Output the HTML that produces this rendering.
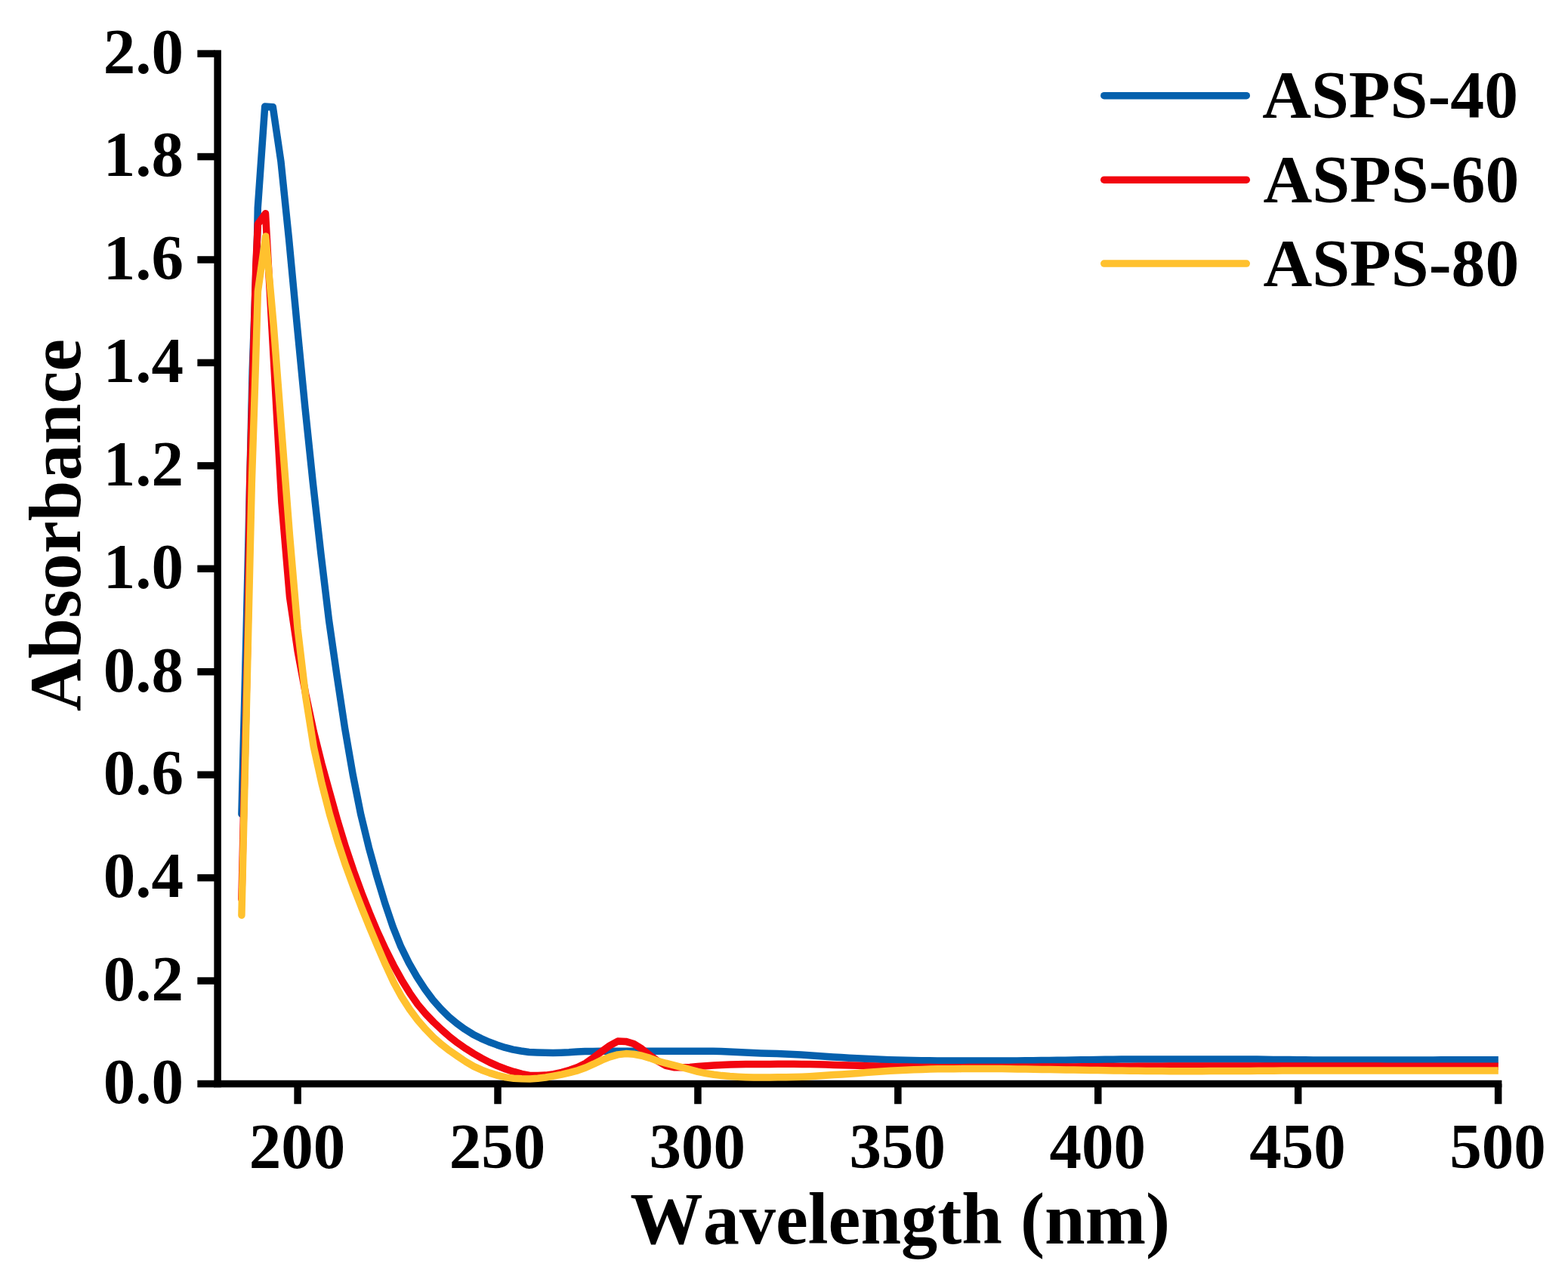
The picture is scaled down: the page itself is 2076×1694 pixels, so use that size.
<!DOCTYPE html>
<html lang="en">
<head>
<meta charset="utf-8">
<title>UV absorbance spectra of ASPS-40, ASPS-60 and ASPS-80</title>
<style>
html,body{margin:0;padding:0;background:#fff;}
body{width:2076px;height:1694px;overflow:hidden;}
svg{display:block;}
.t{font-family:"Liberation Serif",serif;font-weight:bold;fill:#000;font-kerning:none;}
</style>
</head>
<body>
<svg width="2076" height="1694" viewBox="0 0 2076 1694">
<rect width="2076" height="1694" fill="#fff"/>
<g fill="#000">
<rect x="283.35" y="66.35" width="9.50" height="1373.90"/>
<rect x="283.35" y="1430.75" width="1705.00" height="9.50"/>
<rect x="261.35" y="1430.75" width="23.00" height="9.50"/>
<rect x="261.35" y="1294.31" width="23.00" height="9.50"/>
<rect x="261.35" y="1157.87" width="23.00" height="9.50"/>
<rect x="261.35" y="1021.43" width="23.00" height="9.50"/>
<rect x="261.35" y="884.99" width="23.00" height="9.50"/>
<rect x="261.35" y="748.55" width="23.00" height="9.50"/>
<rect x="261.35" y="612.11" width="23.00" height="9.50"/>
<rect x="261.35" y="475.67" width="23.00" height="9.50"/>
<rect x="261.35" y="339.23" width="23.00" height="9.50"/>
<rect x="261.35" y="202.79" width="23.00" height="9.50"/>
<rect x="261.35" y="66.35" width="23.00" height="9.50"/>
<rect x="389.35" y="1435.50" width="9.50" height="26.75"/>
<rect x="654.27" y="1435.50" width="9.50" height="26.75"/>
<rect x="919.18" y="1435.50" width="9.50" height="26.75"/>
<rect x="1184.10" y="1435.50" width="9.50" height="26.75"/>
<rect x="1449.02" y="1435.50" width="9.50" height="26.75"/>
<rect x="1713.93" y="1435.50" width="9.50" height="26.75"/>
<rect x="1978.85" y="1435.50" width="9.50" height="26.75"/>
</g>
<clipPath id="plot"><rect x="288.10" y="0" width="1695.70" height="1694"/></clipPath>
<g clip-path="url(#plot)">
<polyline points="319.9,1078.3 326.0,840.0 334.2,490.0 340.6,312.0 341.3,275.0 350.7,141.1 361.3,141.8 371.9,213.6 382.5,316.3 393.1,428.6 403.7,537.8 414.3,639.3 424.9,733.5 435.5,821.5 446.1,895.1 456.6,964.6 467.2,1026.0 477.8,1079.2 488.4,1122.7 499.0,1160.9 509.6,1196.0 520.2,1227.4 530.8,1253.9 541.4,1275.4 552.0,1293.9 562.6,1310.1 573.2,1324.3 583.8,1336.3 594.4,1346.8 605.0,1355.7 615.6,1363.3 626.2,1369.9 636.8,1375.3 647.4,1380.0 658.0,1383.9 668.6,1387.4 679.2,1390.1 689.8,1392.0 700.4,1393.5 711.0,1394.0 721.5,1394.3 732.1,1394.4 742.7,1394.2 753.3,1393.8 763.9,1393.1 774.5,1392.6 785.1,1392.4 795.7,1392.3 806.3,1392.3 816.9,1392.3 827.5,1392.2 838.1,1392.2 848.7,1392.2 859.3,1392.2 869.9,1392.2 880.5,1392.2 891.1,1392.2 901.7,1392.2 912.3,1392.2 922.9,1392.2 933.5,1392.2 944.1,1392.3 954.7,1392.6 965.3,1393.1 975.9,1393.6 986.4,1394.1 997.0,1394.5 1007.6,1394.9 1018.2,1395.2 1028.8,1395.6 1039.4,1396.0 1050.0,1396.5 1060.6,1397.1 1071.2,1397.7 1081.8,1398.5 1092.4,1399.2 1103.0,1399.9 1113.6,1400.6 1124.2,1401.2 1134.8,1401.7 1145.4,1402.3 1156.0,1402.8 1166.6,1403.3 1177.2,1403.7 1187.8,1404.0 1198.4,1404.2 1209.0,1404.5 1219.6,1404.7 1230.2,1404.8 1240.8,1405.0 1251.3,1405.0 1261.9,1405.0 1272.5,1405.0 1283.1,1405.0 1293.7,1405.0 1304.3,1405.0 1314.9,1405.0 1325.5,1405.0 1336.1,1405.0 1346.7,1404.9 1357.3,1404.8 1367.9,1404.7 1378.5,1404.5 1389.1,1404.4 1399.7,1404.3 1410.3,1404.2 1420.9,1404.0 1431.5,1403.8 1442.1,1403.7 1452.7,1403.5 1463.3,1403.3 1473.9,1403.2 1484.5,1403.1 1495.1,1403.0 1505.7,1403.0 1516.2,1403.0 1526.8,1403.0 1537.4,1403.0 1548.0,1403.0 1558.6,1403.0 1569.2,1403.0 1579.8,1403.0 1590.4,1403.0 1601.0,1403.0 1611.6,1403.0 1622.2,1403.0 1632.8,1403.0 1643.4,1403.0 1654.0,1403.1 1664.6,1403.1 1675.2,1403.2 1685.8,1403.4 1696.4,1403.5 1707.0,1403.6 1717.6,1403.7 1728.2,1403.8 1738.8,1403.9 1749.4,1403.9 1760.0,1403.9 1770.6,1403.9 1781.1,1403.9 1791.7,1403.9 1802.3,1403.9 1812.9,1403.9 1823.5,1403.9 1834.1,1403.9 1844.7,1403.9 1855.3,1403.9 1865.9,1403.9 1876.5,1403.9 1887.1,1403.9 1897.7,1403.9 1908.3,1403.8 1918.9,1403.8 1929.5,1403.8 1940.1,1403.8 1950.7,1403.8 1961.3,1403.8 1971.9,1403.7 1982.5,1403.7 1990.0,1403.7" fill="none" stroke="#0560ad" stroke-width="9.5" stroke-linejoin="round" stroke-linecap="round"/>
<polyline points="319.9,1191.0 328.1,840.0 330.7,640.0 334.9,490.0 338.8,352.0 341.4,296.7 351.5,282.7 363.1,490.0 372.9,665.7 383.5,790.8 394.1,862.4 404.7,919.2 415.3,968.9 425.9,1011.5 436.5,1049.7 447.1,1087.7 457.6,1122.1 468.2,1153.5 478.8,1182.7 489.4,1209.6 500.0,1234.8 510.6,1257.7 521.2,1278.7 531.8,1297.9 542.4,1315.1 553.0,1330.3 563.6,1342.9 574.2,1353.9 584.8,1363.9 595.4,1373.2 606.0,1381.4 616.6,1388.8 627.2,1395.5 637.8,1401.6 648.4,1407.1 659.0,1411.9 669.6,1416.0 680.2,1419.4 690.8,1422.4 701.4,1424.4 712.0,1424.4 722.5,1424.1 733.1,1422.7 743.7,1420.3 754.3,1417.2 764.9,1413.5 775.5,1408.2 786.1,1400.5 796.7,1392.6 807.3,1384.9 817.9,1379.1 828.5,1379.4 839.1,1382.5 849.7,1389.1 860.3,1397.5 870.9,1405.4 881.5,1411.4 892.1,1413.7 902.7,1413.8 913.3,1413.5 923.9,1412.6 934.5,1411.7 945.1,1411.1 955.7,1410.6 966.3,1410.1 976.9,1409.8 987.4,1409.6 998.0,1409.5 1008.6,1409.4 1019.2,1409.4 1029.8,1409.3 1040.4,1409.3 1051.0,1409.3 1061.6,1409.4 1072.2,1409.6 1082.8,1409.8 1093.4,1410.1 1104.0,1410.4 1114.6,1410.7 1125.2,1411.0 1135.8,1411.3 1146.4,1411.7 1157.0,1412.1 1167.6,1412.4 1178.2,1412.7 1188.8,1412.9 1199.4,1413.1 1210.0,1413.3 1220.6,1413.4 1231.2,1413.6 1241.8,1413.7 1252.3,1413.7 1262.9,1413.7 1273.5,1413.7 1284.1,1413.6 1294.7,1413.6 1305.3,1413.6 1315.9,1413.5 1326.5,1413.4 1337.1,1413.4 1347.7,1413.3 1358.3,1413.2 1368.9,1413.2 1379.5,1413.1 1390.1,1413.1 1400.7,1413.0 1411.3,1412.9 1421.9,1412.9 1432.5,1412.8 1443.1,1412.7 1453.7,1412.7 1464.3,1412.6 1474.9,1412.5 1485.5,1412.4 1496.1,1412.4 1506.7,1412.3 1517.2,1412.2 1527.8,1412.2 1538.4,1412.2 1549.0,1412.1 1559.6,1412.1 1570.2,1412.1 1580.8,1412.1 1591.4,1412.1 1602.0,1412.1 1612.6,1412.1 1623.2,1412.1 1633.8,1412.1 1644.4,1412.1 1655.0,1412.1 1665.6,1412.1 1676.2,1412.1 1686.8,1412.1 1697.4,1412.1 1708.0,1412.1 1718.6,1412.1 1729.2,1412.1 1739.8,1412.1 1750.4,1412.1 1761.0,1412.1 1771.6,1412.1 1782.1,1412.1 1792.7,1412.1 1803.3,1412.1 1813.9,1412.1 1824.5,1412.1 1835.1,1412.2 1845.7,1412.2 1856.3,1412.2 1866.9,1412.2 1877.5,1412.2 1888.1,1412.2 1898.7,1412.2 1909.3,1412.2 1919.9,1412.2 1930.5,1412.2 1941.1,1412.2 1951.7,1412.3 1962.3,1412.3 1972.9,1412.3 1983.5,1412.3 1990.0,1412.3" fill="none" stroke="#f2050f" stroke-width="9.5" stroke-linejoin="round" stroke-linecap="round"/>
<polyline points="319.9,1212.3 328.6,840.0 333.3,640.0 338.2,490.0 341.4,386.0 351.7,313.0 362.3,431.8 372.9,571.3 383.5,709.2 394.1,832.7 404.7,922.4 415.3,989.2 425.9,1037.2 436.5,1078.6 447.1,1114.5 457.6,1146.2 468.2,1175.0 478.8,1202.2 489.4,1228.4 500.0,1253.6 510.6,1278.1 521.2,1300.9 531.8,1320.4 542.4,1336.9 553.0,1351.2 563.6,1363.3 574.2,1374.2 584.8,1383.6 595.4,1391.7 606.0,1399.0 616.6,1406.1 627.2,1412.4 637.8,1417.2 648.4,1421.1 659.0,1424.4 669.6,1426.9 680.2,1428.2 690.8,1428.7 701.4,1428.9 712.0,1428.3 722.5,1427.0 733.1,1425.1 743.7,1423.1 754.3,1420.7 764.9,1417.8 775.5,1414.0 786.1,1409.2 796.7,1404.1 807.3,1399.9 817.9,1396.9 828.5,1395.6 839.1,1396.3 849.7,1398.2 860.3,1401.4 870.9,1405.2 881.5,1408.2 892.1,1410.9 902.7,1413.6 913.3,1416.5 923.9,1419.4 934.5,1421.6 945.1,1423.3 955.7,1424.6 966.3,1425.6 976.9,1426.2 987.4,1426.7 998.0,1427.0 1008.6,1427.0 1019.2,1426.9 1029.8,1426.8 1040.4,1426.7 1051.0,1426.5 1061.6,1426.2 1072.2,1425.7 1082.8,1425.0 1093.4,1424.3 1104.0,1423.6 1114.6,1422.9 1125.2,1422.2 1135.8,1421.4 1146.4,1420.5 1157.0,1419.7 1167.6,1418.9 1178.2,1418.2 1188.8,1417.7 1199.4,1417.2 1210.0,1416.8 1220.6,1416.4 1231.2,1416.0 1241.8,1415.8 1252.3,1415.7 1262.9,1415.7 1273.5,1415.6 1284.1,1415.6 1294.7,1415.6 1305.3,1415.6 1315.9,1415.6 1326.5,1415.6 1337.1,1415.7 1347.7,1415.9 1358.3,1416.0 1368.9,1416.2 1379.5,1416.5 1390.1,1416.6 1400.7,1416.8 1411.3,1417.0 1421.9,1417.1 1432.5,1417.3 1443.1,1417.4 1453.7,1417.6 1464.3,1417.7 1474.9,1417.9 1485.5,1418.0 1496.1,1418.2 1506.7,1418.3 1517.2,1418.4 1527.8,1418.5 1538.4,1418.6 1549.0,1418.7 1559.6,1418.7 1570.2,1418.7 1580.8,1418.7 1591.4,1418.7 1602.0,1418.6 1612.6,1418.6 1623.2,1418.5 1633.8,1418.5 1644.4,1418.4 1655.0,1418.4 1665.6,1418.3 1676.2,1418.3 1686.8,1418.2 1697.4,1418.1 1708.0,1418.1 1718.6,1418.1 1729.2,1418.0 1739.8,1418.0 1750.4,1418.0 1761.0,1418.0 1771.6,1418.0 1782.1,1418.0 1792.7,1418.0 1803.3,1418.0 1813.9,1418.0 1824.5,1418.0 1835.1,1418.0 1845.7,1418.0 1856.3,1418.0 1866.9,1418.0 1877.5,1418.0 1888.1,1418.0 1898.7,1418.0 1909.3,1418.0 1919.9,1418.0 1930.5,1418.0 1941.1,1418.0 1951.7,1418.0 1962.3,1418.0 1972.9,1418.0 1983.5,1418.0 1990.0,1418.0" fill="none" stroke="#ffc12e" stroke-width="9.5" stroke-linejoin="round" stroke-linecap="round"/>
</g>
<g class="t" font-size="85">
<text x="243.0" y="1461.3" text-anchor="end">0.0</text>
<text x="243.0" y="1324.9" text-anchor="end">0.2</text>
<text x="243.0" y="1188.4" text-anchor="end">0.4</text>
<text x="243.0" y="1052.0" text-anchor="end">0.6</text>
<text x="243.0" y="915.5" text-anchor="end">0.8</text>
<text x="243.0" y="779.1" text-anchor="end">1.0</text>
<text x="243.0" y="642.7" text-anchor="end">1.2</text>
<text x="243.0" y="506.2" text-anchor="end">1.4</text>
<text x="243.0" y="369.8" text-anchor="end">1.6</text>
<text x="243.0" y="233.3" text-anchor="end">1.8</text>
<text x="243.0" y="96.9" text-anchor="end">2.0</text>
<text x="393.5" y="1547.0" text-anchor="middle">200</text>
<text x="658.4" y="1547.0" text-anchor="middle">250</text>
<text x="923.3" y="1547.0" text-anchor="middle">300</text>
<text x="1188.2" y="1547.0" text-anchor="middle">350</text>
<text x="1453.2" y="1547.0" text-anchor="middle">400</text>
<text x="1718.1" y="1547.0" text-anchor="middle">450</text>
<text x="1983.0" y="1547.0" text-anchor="middle">500</text>
</g>
<text class="t" font-size="96.4" x="1191.7" y="1647.1" text-anchor="middle" >Wavelength (nm)</text>
<text class="t" font-size="96.5" transform="translate(105.7,695.5) rotate(-90)" text-anchor="middle" >Absorbance</text>
<line x1="1461.8" y1="126.7" x2="1650.3" y2="126.7" stroke="#0560ad" stroke-width="9.5" stroke-linecap="round"/>
<text class="t" font-size="89.7" x="1671.2" y="154.8" >ASPS-40</text>
<line x1="1461.8" y1="238.2" x2="1650.3" y2="238.2" stroke="#f2050f" stroke-width="9.5" stroke-linecap="round"/>
<text class="t" font-size="89.7" x="1672.4" y="266.8" >ASPS-60</text>
<line x1="1461.8" y1="349.1" x2="1650.3" y2="349.1" stroke="#ffc12e" stroke-width="9.5" stroke-linecap="round"/>
<text class="t" font-size="89.7" x="1672.4" y="377.7" >ASPS-80</text>
</svg>
</body>
</html>
